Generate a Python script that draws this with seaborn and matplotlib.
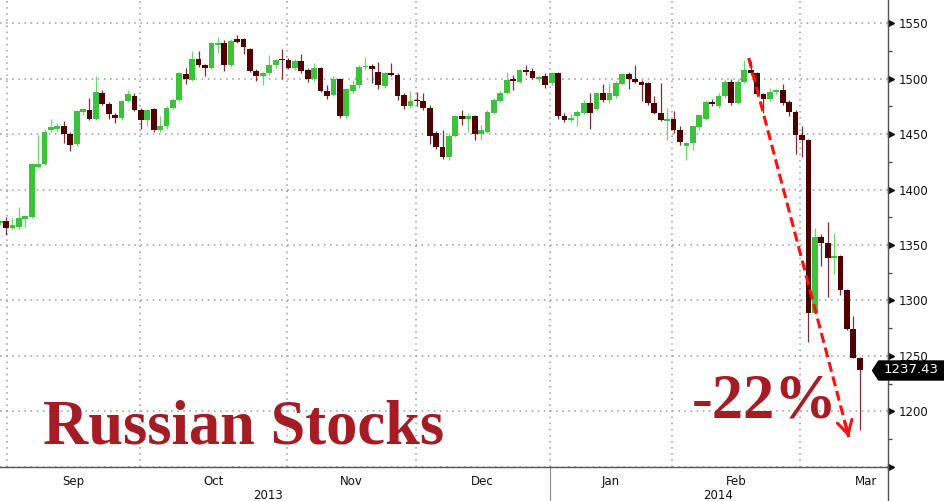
import matplotlib
matplotlib.use("Agg")
import matplotlib.pyplot as plt
import matplotlib.transforms as mtransforms
import numpy as np
import seaborn as sns

# daily candles, late Aug 2013 -> mid Mar 2014
opens = [1369.5, 1372, 1365, 1366, 1373, 1375, 1420.5, 1423, 1454, 1455,
         1457, 1450, 1441, 1470, 1472, 1464, 1487, 1477, 1467, 1465,
         1480, 1484, 1472, 1463, 1472.5, 1454, 1457, 1474, 1481, 1504,
         1499, 1517.5, 1512, 1510, 1530.5, 1532.5, 1512, 1536, 1536, 1526.5,
         1507, 1502, 1505, 1512, 1518, 1517, 1510, 1516, 1508, 1500,
         1509.5, 1489, 1485, 1500, 1466, 1489, 1494, 1510.5, 1511.5, 1506,
         1493.5, 1505.5, 1503, 1485, 1475, 1481, 1480, 1474, 1451, 1438.5,
         1429, 1448, 1466, 1464, 1466, 1450, 1452, 1469, 1480, 1487,
         1500, 1497, 1508, 1507, 1500, 1502.5, 1496, 1505.5, 1466, 1463,
         1466, 1469, 1478, 1473, 1487, 1481, 1484, 1495, 1504, 1499.5,
         1497, 1496, 1478, 1469, 1462, 1464, 1454, 1439, 1442, 1456,
         1464, 1479, 1475, 1484.5, 1497, 1478, 1497, 1508, 1505, 1486,
         1481.5, 1488, 1490, 1479, 1470, 1449, 1445, 1289, 1357, 1351.5,
         1338, 1340, 1309, 1274, 1248.5]
highs = [1372.5, 1375, 1374, 1384, 1377, 1424, 1449, 1455, 1464, 1460,
         1462, 1452, 1472, 1474, 1483, 1502, 1490, 1479, 1469, 1480.5,
         1490, 1487, 1474, 1473, 1474, 1466, 1475, 1483, 1506, 1510,
         1525, 1525, 1513, 1533, 1538, 1535, 1536, 1539.5, 1537, 1528,
         1509, 1506, 1521, 1518, 1527, 1519, 1518, 1522, 1510, 1514,
         1511, 1494, 1502, 1501, 1492, 1499, 1512, 1520, 1513, 1515,
         1506, 1514, 1505, 1487, 1489, 1488, 1487, 1476, 1453, 1454,
         1451, 1467, 1472, 1469, 1467, 1458, 1472, 1483, 1489, 1506,
         1503, 1508.5, 1512, 1510, 1503, 1505, 1506, 1506, 1469, 1468,
         1472, 1481, 1487, 1488, 1495, 1496, 1498, 1505, 1506, 1512,
         1499, 1497, 1484, 1496, 1474, 1471, 1457, 1443, 1457.5, 1468,
         1481, 1482, 1487, 1500, 1500, 1500, 1517, 1516, 1506, 1487,
         1492, 1491, 1495, 1481, 1472, 1457, 1446, 1365, 1360, 1371,
         1361, 1341, 1310, 1286, 1249]
lows = [1368, 1359, 1364, 1364, 1366, 1374, 1419, 1422, 1452, 1453,
        1442, 1435, 1439, 1467, 1463, 1463, 1476, 1464, 1460, 1463,
        1479, 1471, 1455, 1457, 1451.5, 1452, 1455, 1473, 1480, 1495,
        1498, 1511, 1502, 1509, 1523, 1507, 1511, 1532, 1522, 1506,
        1498, 1494, 1503, 1510, 1499.5, 1509, 1508, 1505, 1497, 1498,
        1488, 1482, 1484, 1465, 1465, 1487, 1492, 1508, 1496, 1491,
        1492, 1502, 1481, 1473, 1474, 1475, 1472, 1441, 1437, 1428,
        1427, 1447, 1458, 1452, 1445, 1446, 1451, 1468, 1479, 1486,
        1490, 1496, 1503, 1500, 1497, 1492, 1494, 1464, 1461, 1461,
        1457, 1468, 1455, 1472, 1479, 1478, 1483, 1494, 1491, 1496,
        1480, 1476, 1468, 1462, 1445, 1451, 1440, 1427, 1436, 1454,
        1463, 1475, 1474, 1483, 1476, 1477, 1496, 1503, 1484, 1469,
        1480, 1486, 1476, 1466, 1432.5, 1429.5, 1262.5, 1288, 1331, 1303,
        1324, 1305, 1273, 1248, 1183]
closes = [1372, 1365, 1368, 1374, 1376, 1423, 1423.5, 1452, 1456, 1457,
          1450, 1440, 1471, 1473, 1464, 1488, 1477, 1468, 1465, 1480,
          1486, 1472, 1463, 1472, 1454, 1457, 1474, 1481, 1505, 1500,
          1517.5, 1512, 1510, 1532.5, 1532.5, 1512, 1534, 1533.5, 1529, 1507,
          1502.5, 1505, 1512, 1517, 1516.5, 1510, 1516, 1507, 1500, 1509.5,
          1489, 1484.5, 1500, 1466, 1491, 1494, 1511, 1511.5, 1508.5, 1494,
          1505.5, 1503, 1484.5, 1475, 1480, 1479.5, 1474, 1448, 1438.5, 1429,
          1448, 1466, 1464, 1466, 1450, 1454, 1470, 1480.5, 1487, 1499,
          1498, 1508, 1506, 1501, 1501.5, 1494, 1505.5, 1466, 1463, 1465,
          1470, 1478, 1469, 1487, 1481, 1487, 1496, 1504, 1499.5, 1497,
          1494, 1478, 1469, 1463, 1463.5, 1454, 1443, 1442, 1457, 1467,
          1479, 1477, 1484.5, 1497, 1478, 1497, 1508, 1505, 1486, 1481.5,
          1488, 1490, 1478, 1470, 1449, 1445, 1289, 1357, 1351.5, 1338,
          1340, 1309, 1274, 1248.5, 1237.43]

# month boundaries on the trading-day axis
month_edges = [1.15, 21.87, 44.8, 64.8, 85.7, 104.7, 124.7, 145.2]
month_names = ['Sep', 'Oct', 'Nov', 'Dec', 'Jan', 'Feb', 'Mar']
year_names = ['2013', '2014']
year_centres = [41.8, 111.9]
price_ticks = [1150, 1200, 1250, 1300, 1350, 1400, 1450, 1500, 1550]
price_minor = [1175, 1225, 1275, 1325, 1375, 1425, 1475, 1525]

# arrow of the drawdown annotation (day index, price)
arrow_from = (116.7, 1518.7)
arrow_to = (132.3, 1176.6)

UP = '#3ec23e'
DOWN = '#4f0000'
UP_WICK = '#6fd46f'
DOWN_WICK = '#7a3030'
TITLE_RED = '#a51c24'

sns.set_theme(style='white')
plt.rcParams['font.family'] = ['DejaVu Sans']

fig = plt.figure(figsize=(9.44, 5.01), dpi=100)
ax = fig.add_axes([0, 34.3 / 501, 888 / 944, 466.7 / 501])

o = np.array(opens)
c = np.array(closes)
idx = np.arange(len(o))
rising = c >= o

ax.vlines(idx, lows, highs, colors=np.where(rising, UP_WICK, DOWN_WICK),
          lw=0.9, zorder=2)
ax.bar(idx, c - o, bottom=o, width=0.9,
       color=np.where(rising, UP, DOWN), lw=0, zorder=3)

ax.set_xlim(0.06, 138.4)
ax.set_ylim(1150, 1571)

# axes / ticks
for side in ['left', 'top']:
    ax.spines[side].set_visible(False)
for side in ['right', 'bottom']:
    ax.spines[side].set_color('#555555')
    ax.spines[side].set_linewidth(1.0)

ax.yaxis.tick_right()
ax.set_yticks(price_ticks)
ax.set_yticklabels(['' if t == 1150 else str(t) for t in price_ticks])
ax.set_yticks(price_minor, minor=True)
ax.tick_params(axis='y', which='major', length=0, pad=8, labelsize=8.5,
               labelcolor='#111111')
ax.tick_params(axis='y', which='minor', length=3, width=0.9, color='#444444',
               direction='out')

ax.set_xticks(month_edges[:-1])
ax.set_xticklabels([])
mids = [(a + b) / 2 for a, b in zip(month_edges[:-1], month_edges[1:])]
ax.set_xticks(mids, minor=True)
ax.set_xticklabels(month_names, minor=True)
ax.tick_params(axis='x', which='major', length=4, width=0.9, color='#555555',
               direction='out')
ax.tick_params(axis='x', which='minor', length=0, pad=6, labelsize=8.5,
               labelcolor='#111111')

ax.grid(True, which='major', ls=(0, (1, 3)), color='#9a9a9a', lw=1.1)
ax.set_axisbelow(True)

xa_yd = mtransforms.blended_transform_factory(ax.transAxes, ax.transData)
xd_ya = mtransforms.blended_transform_factory(ax.transData, ax.transAxes)

# Bloomberg style triangle markers on the price axis
ax.plot([1.0035] * len(price_ticks), price_ticks, transform=xa_yd,
        marker='>', ls='none', ms=4.5, color='#111111', clip_on=False)

# year labels and separators below the axis
for name, pos in zip(year_names, year_centres):
    ax.text(pos, -0.061, name, transform=xd_ya, ha='center', va='center',
            fontsize=8.5, color='#111111')
ax.plot([month_edges[4]] * 2, [0, -0.08], transform=xd_ya, color='#888888',
        lw=0.8, clip_on=False)
ax.plot([1, 1], [0, -0.08], transform=ax.transAxes, color='#555555',
        lw=1.0, clip_on=False)

# last price tag
tag = [(-1, 0), (-0.83, 0.264), (1, 0.264), (1, -0.264), (-0.83, -0.264), (-1, 0)]
ax.plot([1.0225], [closes[-1]], transform=xa_yd, marker=tag, ms=51.8,
        color='black', ls='none', clip_on=False, zorder=10)
ax.text(1.0255, closes[-1], f'{closes[-1]:.2f}', transform=xa_yd,
        ha='center', va='center', color='white', fontsize=9.5, zorder=11)

# red dashed drawdown arrow
ax.plot([arrow_from[0], arrow_to[0]], [arrow_from[1], arrow_to[1]],
        ls=(0, (3.3, 1.6)), color='#ff1010', lw=2.2, zorder=6)
back = (arrow_to[0] - 0.04 * (arrow_to[0] - arrow_from[0]),
        arrow_to[1] - 0.04 * (arrow_to[1] - arrow_from[1]))
ax.annotate('', xy=arrow_to, xytext=back,
            arrowprops=dict(arrowstyle='->,head_length=0.8,head_width=0.45',
                            color='#ff1010', lw=2.2, shrinkA=0, shrinkB=0),
            zorder=6)

fig.text(43 / 944, 1 - 444 / 501, 'Russian Stocks', family='Liberation Serif',
         weight='bold', size=45, color=TITLE_RED, va='baseline')
fig.text(692 / 944, 1 - 418 / 501, '-22%', family='Liberation Serif',
         weight='bold', size=45, color=TITLE_RED, va='baseline')

fig.savefig('out.png', dpi=100)
